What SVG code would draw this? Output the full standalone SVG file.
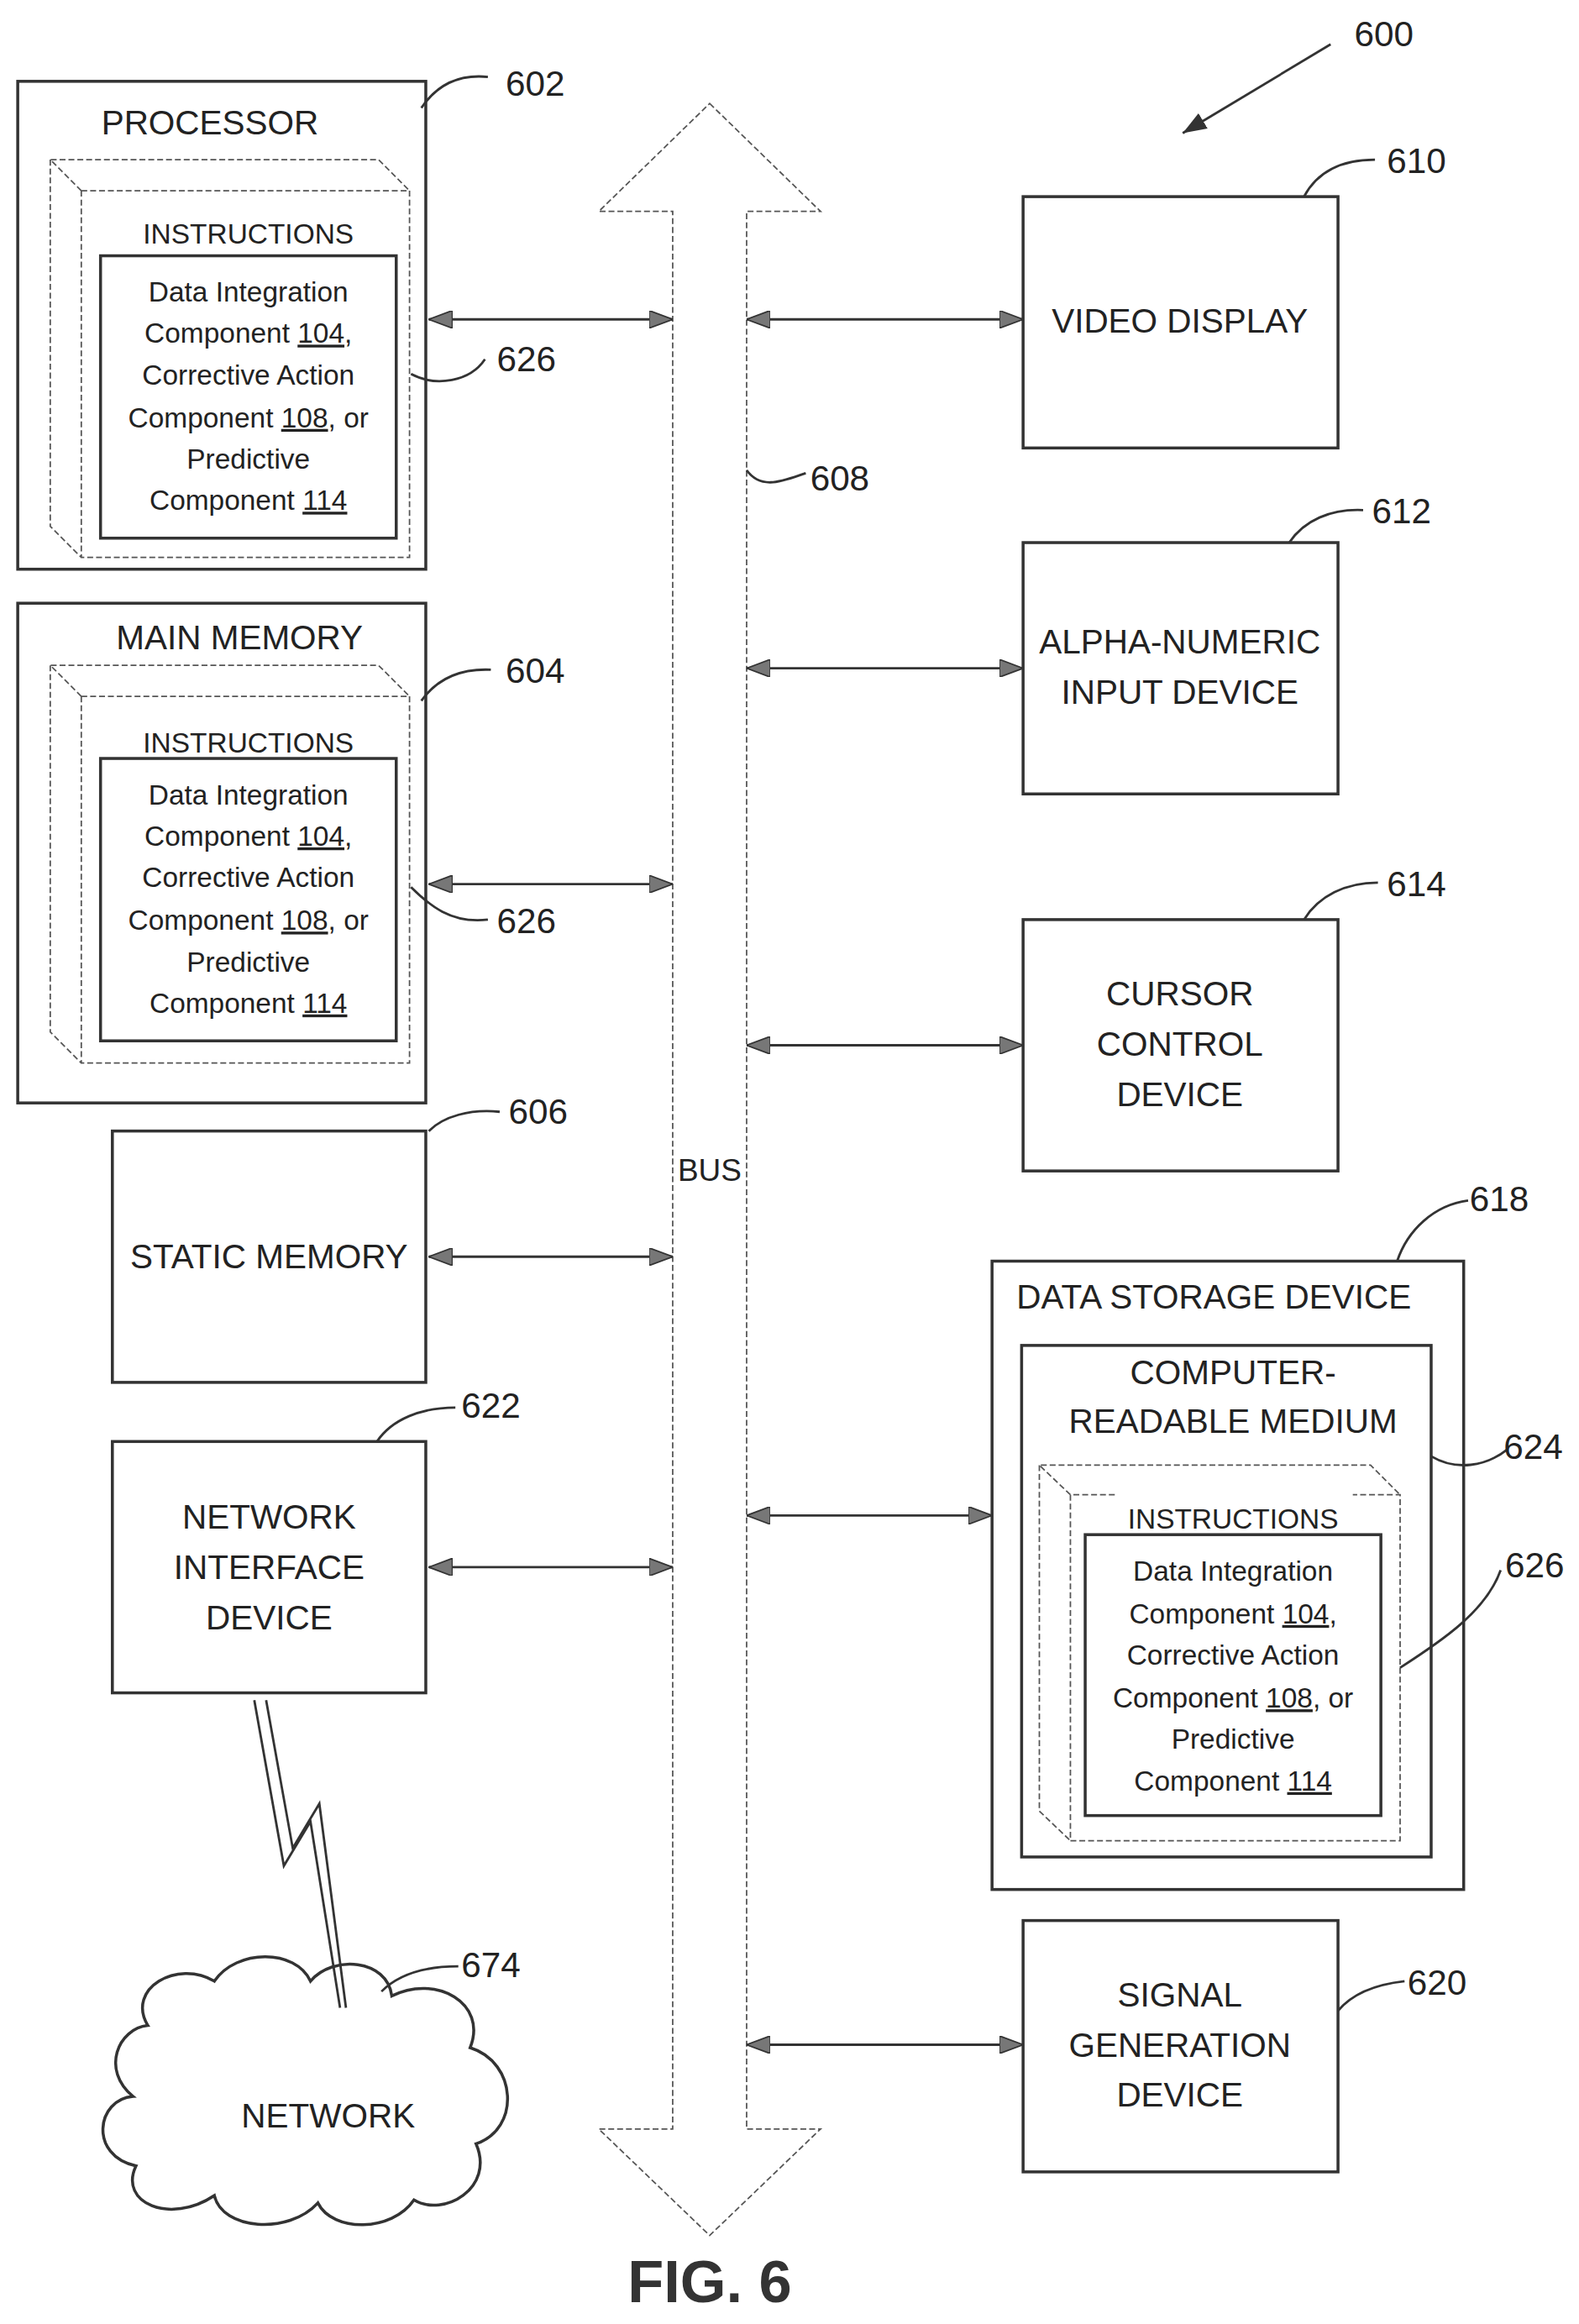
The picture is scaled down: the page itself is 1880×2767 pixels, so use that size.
<svg xmlns="http://www.w3.org/2000/svg" width="1880" height="2767" viewBox="0 0 1880 2767">
<defs>
<style>
.b{fill:none;stroke:#333;stroke-width:2}
.d{fill:none;stroke:#555;stroke-width:1;stroke-dasharray:4 2}
.l{fill:none;stroke:#333;stroke-width:1.6}
.t{font-family:"Liberation Sans Narrow","Liberation Sans",sans-serif;fill:#222;text-anchor:middle;font-size:23px}
.s{font-size:19px}
.n{font-family:"Liberation Sans Narrow","Liberation Sans",sans-serif;fill:#222;font-size:24px}
.c{stroke:#333;stroke-width:1.6;fill:none;marker-start:url(#ah);marker-end:url(#ah)}
</style>
<marker id="ah" viewBox="0 0 16 12" refX="16" refY="6" markerWidth="16" markerHeight="12" markerUnits="userSpaceOnUse" orient="auto-start-reverse"><path d="M0,0 L16,6 L0,12 Z" fill="#777" stroke="#333" stroke-width="1"/></marker>
<marker id="ah2" viewBox="0 0 16 12" refX="16" refY="6" markerWidth="16" markerHeight="12" markerUnits="userSpaceOnUse" orient="auto"><path d="M0,0 L16,6 L0,12 Z" fill="#333"/></marker>
</defs>
<rect width="1880" height="2767" fill="#fff"/>
<g transform="scale(1.7603)">
<g id="processor">
<rect class="b" x="12" y="55" width="276" height="330"/>
<text class="t" x="142" y="91">PROCESSOR</text>
<path class="d" d="M55,129 H277 V377 H55 Z M55,129 L34,108 H256 L277,129 M34,108 V356 L55,377"/>
<text class="t s" x="168" y="165">INSTRUCTIONS</text>
<rect class="b" x="68" y="173" width="200" height="191"/>
<text class="t s"><tspan x="168" y="204">Data Integration</tspan><tspan x="168" y="232">Component  <tspan text-decoration="underline">104</tspan>,</tspan><tspan x="168" y="260">Corrective Action</tspan><tspan x="168" y="289">Component  <tspan text-decoration="underline">108</tspan>, or</tspan><tspan x="168" y="317">Predictive</tspan><tspan x="168" y="345">Component <tspan text-decoration="underline">114</tspan></tspan></text>
</g>
<g id="main-memory">
<rect class="b" x="12" y="408" width="276" height="338"/>
<text class="t" x="162" y="439">MAIN MEMORY</text>
<path class="d" d="M55,471 H277 V719 H55 Z M55,471 L34,450 H256 L277,471 M34,450 V698 L55,719"/>
<text class="t s" x="168" y="509">INSTRUCTIONS</text>
<rect class="b" x="68" y="513" width="200" height="191"/>
<text class="t s"><tspan x="168" y="544">Data Integration</tspan><tspan x="168" y="572">Component  <tspan text-decoration="underline">104</tspan>,</tspan><tspan x="168" y="600">Corrective Action</tspan><tspan x="168" y="629">Component  <tspan text-decoration="underline">108</tspan>, or</tspan><tspan x="168" y="657">Predictive</tspan><tspan x="168" y="685">Component <tspan text-decoration="underline">114</tspan></tspan></text>
</g>
<g id="static-memory">
<rect class="b" x="76" y="765" width="212" height="170"/>
<text class="t" x="182" y="858">STATIC MEMORY</text>
</g>
<g id="network-interface">
<rect class="b" x="76" y="975" width="212" height="170"/>
<text class="t"><tspan x="182" y="1034">NETWORK</tspan><tspan x="182" y="1068">INTERFACE</tspan><tspan x="182" y="1102">DEVICE</tspan></text>
</g>
<g id="bus">
<path class="d" d="M480,70 L555,143 H505 V1440 H555 L480,1512 L405,1440 H455 V143 H405 Z"/>
<text class="t s" x="480" y="799" style="font-size:21px">BUS</text>
</g>
<g id="video-display">
<rect class="b" x="692" y="133" width="213" height="170"/>
<text class="t" x="798" y="225">VIDEO DISPLAY</text>
</g>
<g id="alpha-numeric">
<rect class="b" x="692" y="367" width="213" height="170"/>
<text class="t"><tspan x="798" y="442">ALPHA-NUMERIC</tspan><tspan x="798" y="476">INPUT DEVICE</tspan></text>
</g>
<g id="cursor-control">
<rect class="b" x="692" y="622" width="213" height="170"/>
<text class="t"><tspan x="798" y="680">CURSOR</tspan><tspan x="798" y="714">CONTROL</tspan><tspan x="798" y="748">DEVICE</tspan></text>
</g>
<g id="data-storage">
<rect class="b" x="671" y="853" width="319" height="425"/>
<text class="t" x="821" y="885">DATA STORAGE DEVICE</text>
<rect class="b" x="691" y="910" width="277" height="346"/>
<text class="t"><tspan x="834" y="936">COMPUTER-</tspan><tspan x="834" y="969">READABLE MEDIUM</tspan></text>
<path class="d" d="M754,1011 H724 V1245 H947 V1011 H915 M724,1011 L703,991 H927 L947,1011 M703,991 V1225 L724,1245"/>
<text class="t s" x="834" y="1034">INSTRUCTIONS</text>
<rect class="b" x="734" y="1038" width="200" height="190"/>
<text class="t s"><tspan x="834" y="1069">Data Integration</tspan><tspan x="834" y="1098">Component  <tspan text-decoration="underline">104</tspan>,</tspan><tspan x="834" y="1126">Corrective Action</tspan><tspan x="834" y="1155">Component  <tspan text-decoration="underline">108</tspan>, or</tspan><tspan x="834" y="1183">Predictive</tspan><tspan x="834" y="1211">Component <tspan text-decoration="underline">114</tspan></tspan></text>
</g>
<g id="signal-generation">
<rect class="b" x="692" y="1299" width="213" height="170"/>
<text class="t"><tspan x="798" y="1357">SIGNAL</tspan><tspan x="798" y="1391">GENERATION</tspan><tspan x="798" y="1425">DEVICE</tspan></text>
</g>
<g id="network">
<path class="b" d="M100,1370 C85,1345 120,1325 145,1340 C160,1318 200,1318 210,1340 C225,1322 262,1325 265,1350 C295,1335 330,1355 318,1385 C350,1395 352,1440 322,1450 C335,1480 300,1500 280,1488 C265,1510 225,1510 215,1490 C195,1512 150,1508 145,1485 C115,1505 80,1490 92,1465 C60,1458 65,1420 90,1418 C68,1400 80,1372 100,1370 Z"/>
<text class="t" x="222" y="1439">NETWORK</text>
<path class="l" d="M172,1150 L192,1262 L210,1232 L230,1358 M180,1150 L198,1250 L216,1220 L234,1358"/>
</g>
<g id="connectors">
<line class="c" x1="290" y1="216" x2="455" y2="216"/>
<line class="c" x1="505" y1="216" x2="692" y2="216"/>
<line class="c" x1="505" y1="452" x2="692" y2="452"/>
<line class="c" x1="290" y1="598" x2="455" y2="598"/>
<line class="c" x1="505" y1="707" x2="692" y2="707"/>
<line class="c" x1="290" y1="850" x2="455" y2="850"/>
<line class="c" x1="505" y1="1025" x2="671" y2="1025"/>
<line class="c" x1="290" y1="1060" x2="455" y2="1060"/>
<line class="c" x1="505" y1="1383" x2="692" y2="1383"/>
<path class="l" d="M285,73 C295,58 310,50 330,52"/>
<path class="l" d="M278,253 C295,262 318,258 328,243"/>
<path class="l" d="M285,474 C295,460 310,452 332,453"/>
<path class="l" d="M278,600 C290,612 305,625 330,622"/>
<path class="l" d="M290,765 C300,755 318,750 338,752"/>
<path class="l" d="M255,975 C265,960 285,952 308,952"/>
<path class="l" d="M505,318 C515,332 530,325 545,320"/>
<path class="l" d="M882,133 C890,118 905,108 930,108"/>
<path class="l" d="M872,367 C882,352 900,344 922,345"/>
<path class="l" d="M882,622 C892,606 910,597 932,597"/>
<path class="l" d="M945,853 C952,832 970,815 993,812"/>
<path class="l" d="M968,985 C985,995 1005,992 1020,980"/>
<path class="l" d="M947,1128 C975,1110 1005,1090 1015,1062"/>
<path class="l" d="M905,1360 C915,1348 932,1342 950,1340"/>
<path class="l" d="M258,1347 C270,1335 288,1330 310,1330"/>
<line x1="900" y1="30" x2="800" y2="90" stroke="#333" stroke-width="1.6" marker-end="url(#ah2)"/>
</g>
<g id="labels">
<text class="n" x="342" y="65">602</text>
<text class="n" x="336" y="251">626</text>
<text class="n" x="342" y="462">604</text>
<text class="n" x="336" y="631">626</text>
<text class="n" x="344" y="760">606</text>
<text class="n" x="312" y="959">622</text>
<text class="n" x="548" y="332">608</text>
<text class="n" x="916" y="31">600</text>
<text class="n" x="938" y="117">610</text>
<text class="n" x="928" y="354">612</text>
<text class="n" x="938" y="606">614</text>
<text class="n" x="994" y="819">618</text>
<text class="n" x="1017" y="987">624</text>
<text class="n" x="1018" y="1067">626</text>
<text class="n" x="952" y="1349">620</text>
<text class="n" x="312" y="1337">674</text>
<text x="480" y="1557" style="font-family:'Liberation Sans',sans-serif;font-weight:bold;font-size:40px;fill:#333;text-anchor:middle">FIG. 6</text>
</g>
</g>
</svg>
